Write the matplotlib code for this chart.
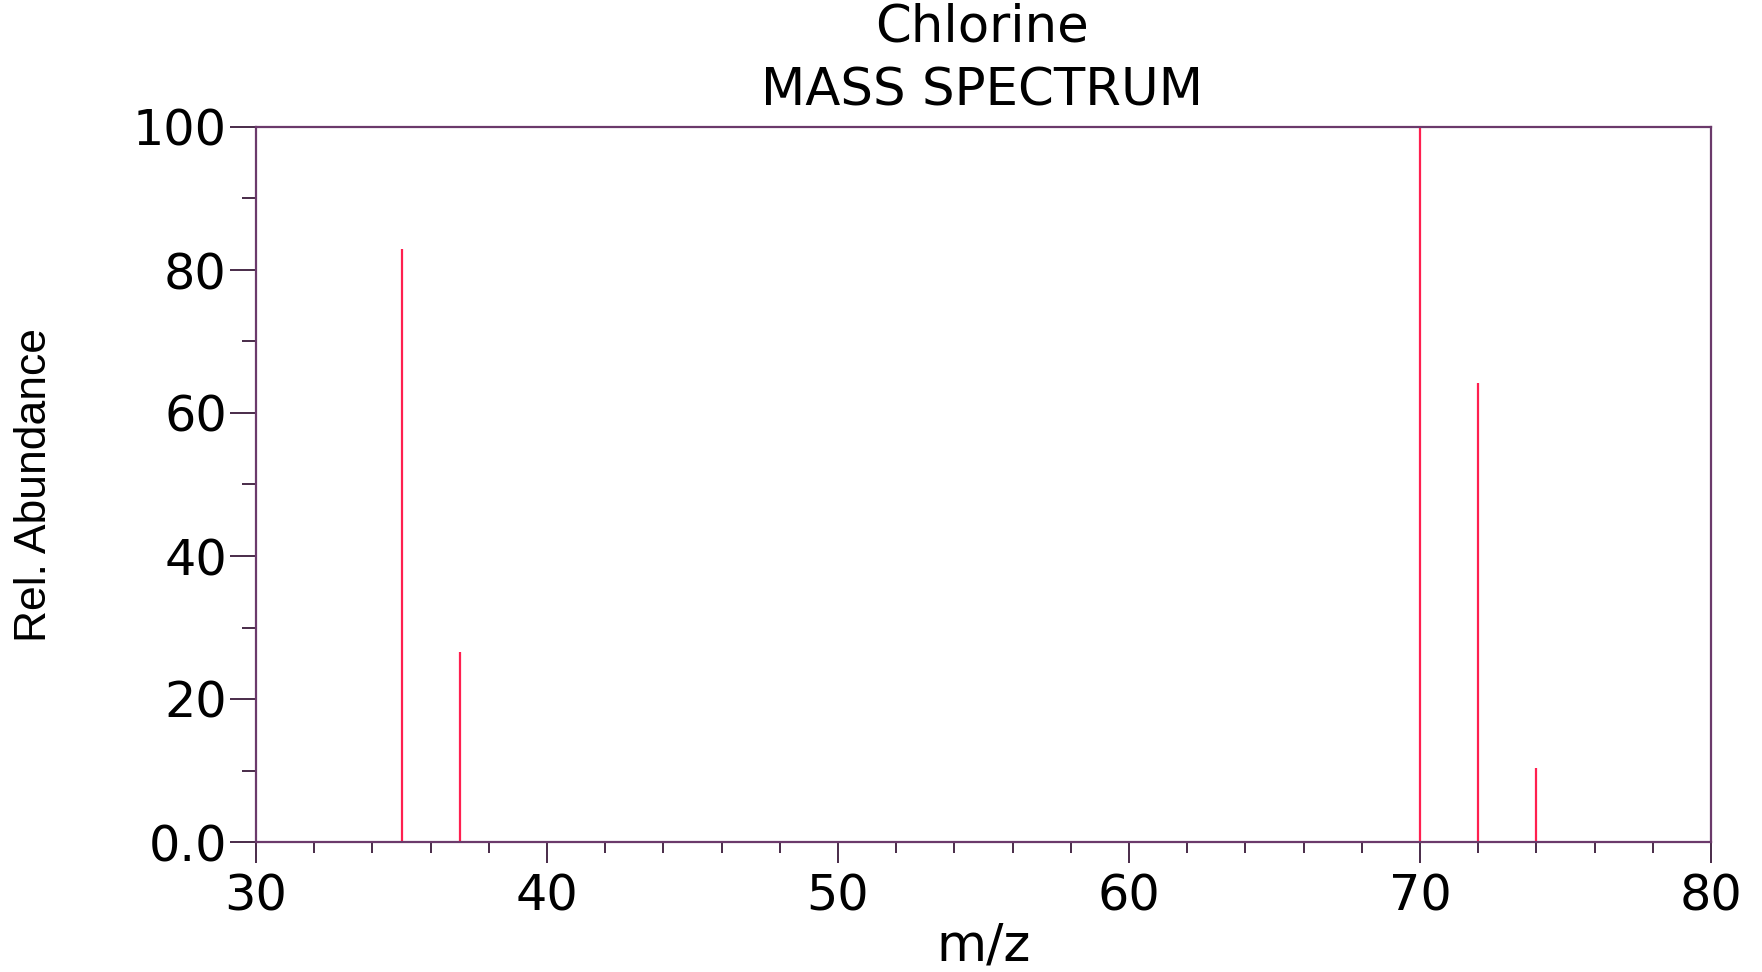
import matplotlib
matplotlib.use("Agg")
import matplotlib.pyplot as plt
from matplotlib.ticker import MultipleLocator, FuncFormatter

# peaks
mz = [35, 37, 70, 72, 74]
abundance = [83.0, 26.6, 100.0, 64.2, 10.4]

title_name = "Chlorine"
title_kind = "MASS SPECTRUM"

spine_col = "#6b3a6b"
tick_col = "#3a1a3a"
peak_col = "#ff1f4f"

plt.rcParams['font.family'] = ['DejaVu Sans']

fig = plt.figure(figsize=(17.62, 9.72), dpi=100)
ax = fig.add_axes([256 / 1762, 1 - 842 / 972, (1711 - 256) / 1762, (842 - 127) / 972])

ax.vlines(mz, 0, abundance, colors=peak_col, linewidth=1.6)

ax.set_xlim(30, 80)
ax.set_ylim(0, 100)
ax.xaxis.set_major_locator(MultipleLocator(10))
ax.xaxis.set_minor_locator(MultipleLocator(2))
ax.yaxis.set_major_locator(MultipleLocator(20))
ax.yaxis.set_minor_locator(MultipleLocator(10))
ax.yaxis.set_major_formatter(FuncFormatter(lambda v, p: "0.0" if v == 0 else f"{v:.0f}"))

for s in ax.spines.values():
    s.set_color(spine_col)
    s.set_linewidth(1.6)

ax.tick_params(axis='x', which='major', length=15, width=1.3, color=tick_col,
               labelsize=35.5, pad=7, direction='out')
ax.tick_params(axis='x', which='minor', length=8, width=1.3, color=tick_col, direction='out')
ax.tick_params(axis='y', which='major', length=19, width=1.3, color=tick_col,
               labelsize=35.5, pad=2, direction='out')
ax.tick_params(axis='y', which='minor', length=10, width=1.3, color=tick_col, direction='out')

ax.set_xlabel("m/z", fontsize=37, labelpad=1)
ax.set_ylabel("Rel. Abundance", fontsize=32, va='center',
              family=['Liberation Sans', 'DejaVu Sans'])
ax.yaxis.set_label_coords(-0.152, 0.5)

fig.text(0.5575, 1 - 27 / 972, title_name, ha='center', va='center', fontsize=37)
fig.text(0.5575, 1 - 92 / 972, title_kind, ha='center', va='center', fontsize=37)

fig.savefig("out.png", dpi=100)
